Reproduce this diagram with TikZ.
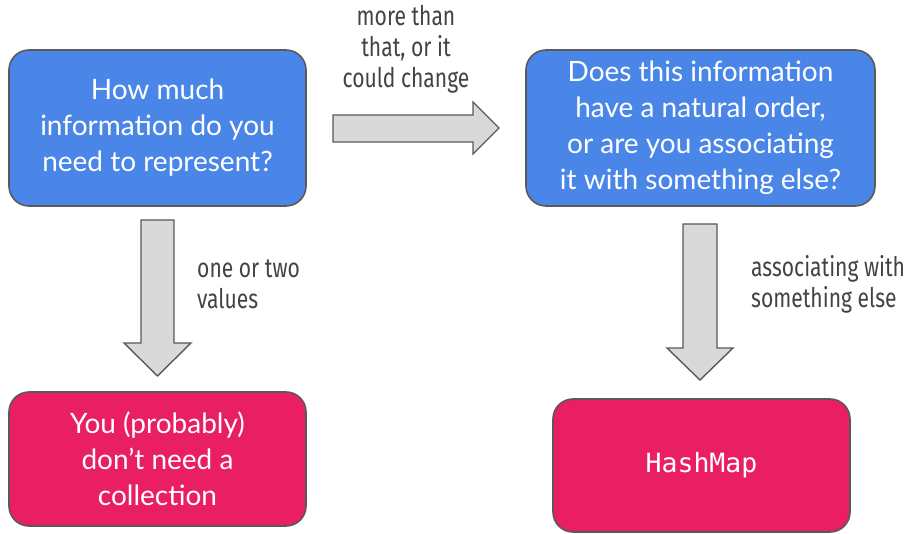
\documentclass[tikz,border=0pt]{standalone}
\usepackage{fontspec}
\setmainfont{Lato}
\newfontfamily\condfont[FakeStretch=0.78]{Fira Sans}
\setmonofont{DejaVu Sans Mono}
\definecolor{boxblue}{HTML}{4A86E8}
\definecolor{boxpink}{HTML}{E91E63}
\definecolor{edgegray}{HTML}{595959}
\definecolor{arrowfill}{HTML}{D9D9D9}
\definecolor{labelgray}{HTML}{434343}
\tikzset{
  flowbox/.style={draw=edgegray, line width=1.6pt, rounded corners=20pt,
    text=white, align=center, inner sep=0pt,
    font=\fontsize{28}{36}\selectfont},
  questionbox/.style={flowbox, fill=boxblue},
  answerbox/.style={flowbox, fill=boxpink},
  blockarrow/.style={draw=edgegray, line width=1.4pt, fill=arrowfill, line join=miter},
  edgelabel/.style={text=labelgray, font=\condfont\fontsize{27}{31}\selectfont, inner sep=0pt}
}
\begin{document}
\begin{tikzpicture}[x=1pt,y=-1pt]
\useasboundingbox (0,0) rectangle (910,534);
\node[questionbox, minimum width=297pt, minimum height=156pt] (q1) at (157.5,128) {How much\\information do you\\need to represent?};
\node[questionbox, minimum width=349pt, minimum height=156pt] (q2) at (700.5,128) {Does this information\\have a natural order,\\or are you associating\\it with something else?};
\node[answerbox, minimum width=297pt, minimum height=134pt] (a1) at (157.5,459) {You (probably)\\don’t need a\\collection};
\node[answerbox, minimum width=297pt, minimum height=133pt] (a2) at (701.5,465.5) {\fontsize{26.5}{30}\selectfont\ttfamily HashMap};
% block arrows
\draw[blockarrow] (333,115) -- (473,115) -- (473,102) -- (499,128) -- (473,154) -- (473,142) -- (333,142) -- cycle;
\draw[blockarrow] (141,220) -- (174,220) -- (174,343) -- (191,343) -- (157.5,376) -- (124,343) -- (141,343) -- cycle;
\draw[blockarrow] (683,224) -- (717,224) -- (717,348) -- (733,348) -- (700,380) -- (667,348) -- (683,348) -- cycle;
% labels
\node[edgelabel, align=center] (l1) at (406,49) {more than\\that, or it\\could change};
\node[edgelabel, align=left, anchor=west] (l2) at (197,284) {one or two\\values};
\node[edgelabel, align=left, anchor=west] (l3) at (751,284) {associating with\\something else};
\end{tikzpicture}
\end{document}
